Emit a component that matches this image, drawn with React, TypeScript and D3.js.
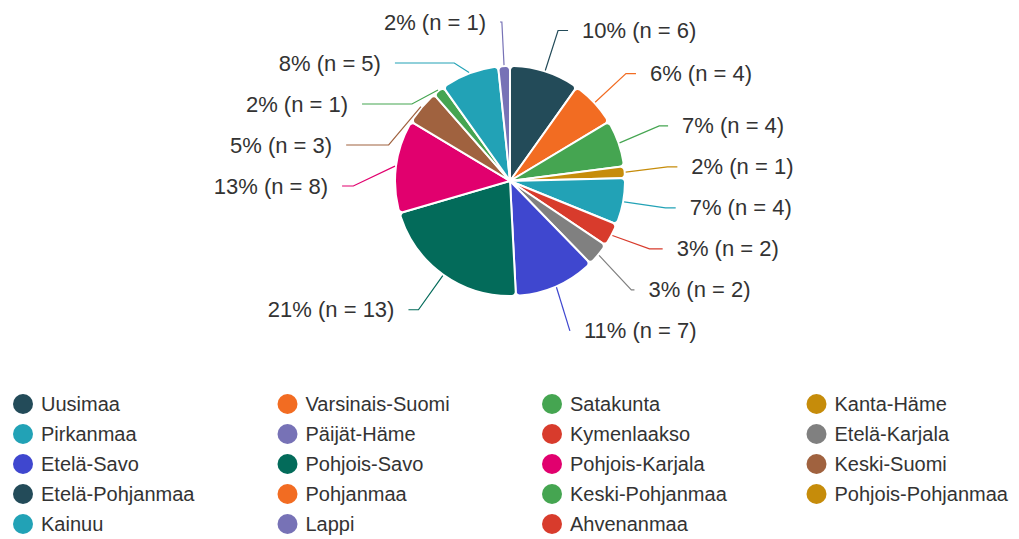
import React from 'react';
import * as d3 from 'd3';

const REGIONS = [
  'Uusimaa', 'Varsinais-Suomi', 'Satakunta', 'Kanta-Häme',
  'Pirkanmaa', 'Päijät-Häme', 'Kymenlaakso', 'Etelä-Karjala',
  'Etelä-Savo', 'Pohjois-Savo', 'Pohjois-Karjala', 'Keski-Suomi',
  'Etelä-Pohjanmaa', 'Pohjanmaa', 'Keski-Pohjanmaa', 'Pohjois-Pohjanmaa',
  'Kainuu', 'Lappi', 'Ahvenanmaa',
];
const COUNTS = [6, 4, 4, 1, 4, 0, 2, 2, 7, 13, 8, 3, 0, 0, 1, 0, 5, 1, 0];
const PALETTE = [
  '#234b59', '#f26c22', '#45a551', '#c68c0a', '#22a2b6', '#7772b6',
  '#d83b2c', '#808080', '#3f47cf', '#036b5a', '#e1006e', '#a0623f',
];

const W = 1019;
const H = 539;
const cx = 510;
const cy = 181;
const R = 115;
const ELBOW = 158;
const FONT = '"Liberation Sans", Arial, sans-serif';

type Item = { name: string; n: number; color: string };
type Lbl = { d: d3.PieArcDatum<Item>; a: number; right: boolean; y: number; pct: number };

function spread(list: Lbl[], gap: number, top: number, bottom: number) {
  list.sort((p, q) => p.y - q.y);
  for (let it = 0; it < 600; it++) {
    for (let i = 1; i < list.length; i++) {
      const d = list[i].y - list[i - 1].y;
      if (d < gap) {
        const s = (gap - d) / 2;
        list[i - 1].y -= s;
        list[i].y += s;
      }
    }
    if (list.length) {
      list[0].y = Math.max(top, list[0].y);
      list[list.length - 1].y = Math.min(bottom, list[list.length - 1].y);
    }
  }
}

// largest remainder rounding so the shares add up to 100
function percents(values: number[]) {
  const sum = d3.sum(values);
  const raw = values.map(v => (v / sum) * 100);
  const out = raw.map(Math.floor);
  let left = 100 - d3.sum(out);
  while (left > 0) {
    let best = -1;
    let bestR = -1;
    raw.forEach((r, i) => {
      const rem = r - out[i];
      if (rem >= bestR - 1e-9) { bestR = rem; best = i; }
    });
    out[best] += 1;
    left -= 1;
  }
  return out;
}

export default function App() {
  const items: Item[] = REGIONS.map((name, i) => ({ name, n: COUNTS[i], color: PALETTE[i % PALETTE.length] }));
  const shown = items.filter(d => d.n > 0);
  const pcts = percents(shown.map(d => d.n));

  const pie = d3.pie<Item>().sort(null).value(d => d.n);
  const arcs = pie(shown);
  const arc = d3.arc<d3.PieArcDatum<Item>>().innerRadius(0).outerRadius(R).cornerRadius(4);

  const labels: Lbl[] = arcs.map((d, i) => {
    const a = (d.startAngle + d.endAngle) / 2;
    return { d, a, right: a < Math.PI, y: cy - Math.cos(a) * ELBOW, pct: pcts[i] };
  });
  spread(labels.filter(l => l.right), 41, 22, 360);
  spread(labels.filter(l => !l.right), 41, 22, 360);

  const colX = d3.scaleLinear().domain([0, 1]).range([23, 287.5]);
  const rowY = d3.scaleLinear().domain([0, 1]).range([404, 434]);

  return (
    <svg width={W} height={H} style={{ position: 'absolute', left: 0, top: 0, background: '#fff' }}>
      <g>
        {arcs.map((d, i) => (
          <path key={i} d={arc(d) || ''} transform={`translate(${cx},${cy})`}
            fill={d.data.color} stroke="#fff" strokeWidth={2} strokeLinejoin="round" />
        ))}
      </g>
      <g>
        {labels.map((l, i) => {
          const dir = l.right ? 1 : -1;
          const ex = cx + Math.sin(l.a) * (R + 1);
          const ey = cy - Math.cos(l.a) * (R + 1);
          const mx = cx + Math.sin(l.a) * ELBOW;
          const dy = l.y - cy;
          const dx = Math.sqrt(Math.max(0, ELBOW * ELBOW - dy * dy));
          const hx = cx + dir * (dx + 10);
          const midX = dir * (hx - mx) < 0 ? hx : mx;
          return (
            <g key={i}>
              <polyline points={`${ex},${ey} ${midX},${l.y} ${hx},${l.y}`} fill="none"
                stroke={l.d.data.color} strokeWidth={1.2} />
              <text x={hx + dir * 14} y={l.y} textAnchor={l.right ? 'start' : 'end'}
                dominantBaseline="central" fontFamily={FONT} fontSize={22} fill="#333">
                {`${l.pct}% (n = ${l.d.data.n})`}
              </text>
            </g>
          );
        })}
      </g>
      <g>
        {items.map((d, i) => {
          const x = colX(i % 4);
          const y = rowY(Math.floor(i / 4));
          return (
            <g key={d.name}>
              <circle cx={x} cy={y} r={10} fill={d.color} />
              <text x={x + 18} y={y} dominantBaseline="central" fontFamily={FONT} fontSize={20} fill="#333">
                {d.name}
              </text>
            </g>
          );
        })}
      </g>
    </svg>
  );
}
